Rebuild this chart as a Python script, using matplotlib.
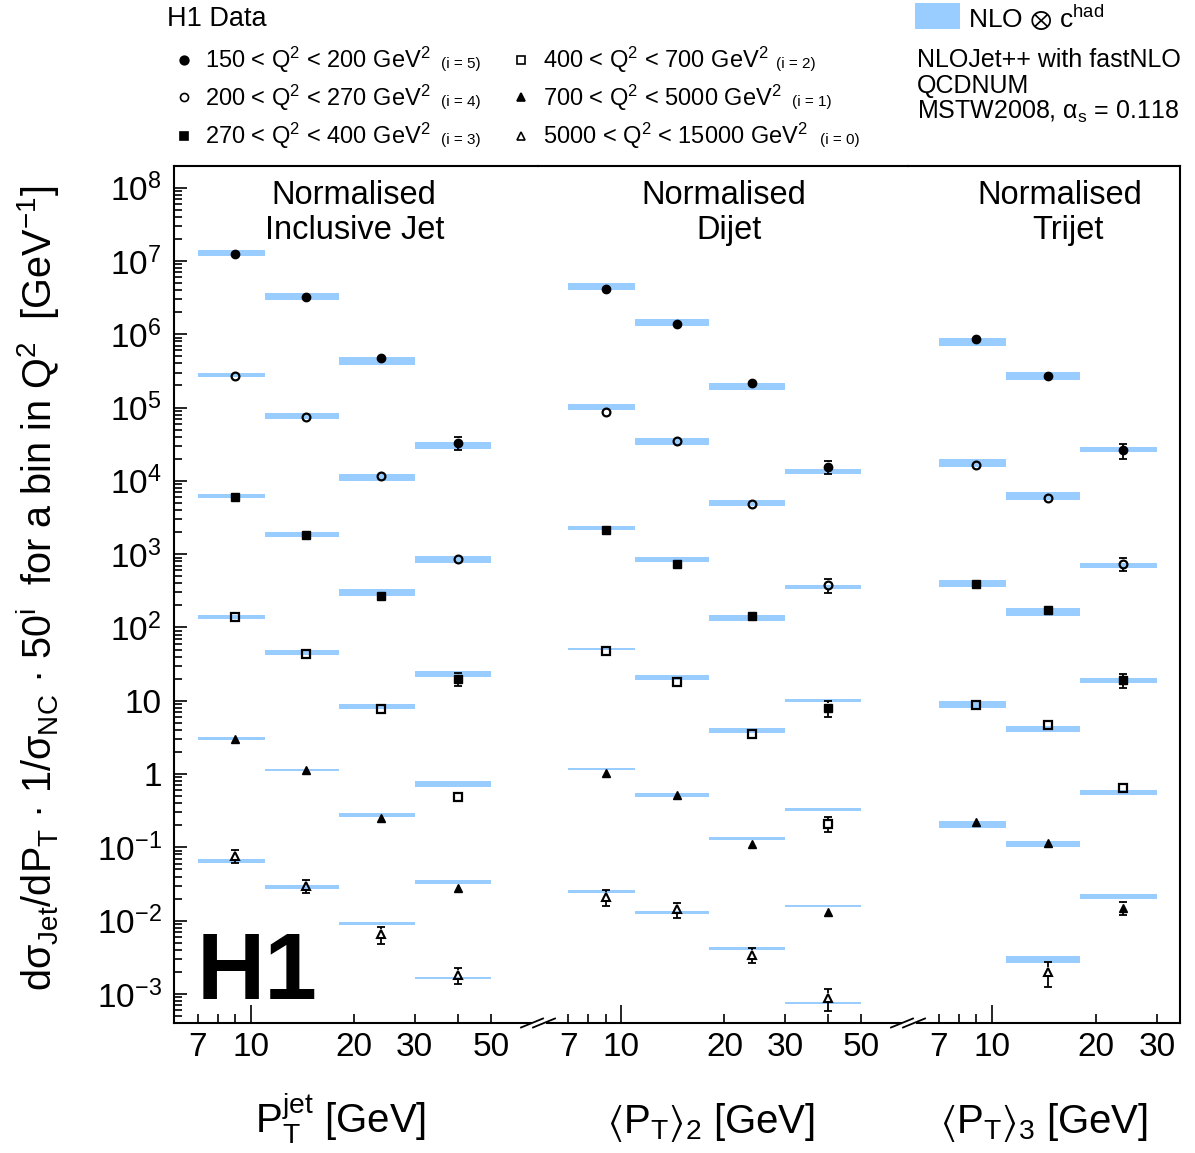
import numpy as np
import matplotlib.pyplot as plt
from matplotlib.patches import Rectangle
from matplotlib.ticker import LogLocator, NullFormatter

plt.rcParams['font.family'] = ['Liberation Sans', 'DejaVu Sans']
plt.rcParams['mathtext.fontset'] = 'custom'
plt.rcParams['mathtext.rm'] = 'Liberation Sans'
plt.rcParams['mathtext.it'] = 'Liberation Sans:italic'
plt.rcParams['mathtext.bf'] = 'Liberation Sans:bold'
plt.rcParams['mathtext.fallback'] = 'stixsans'

# P_T bins (GeV), same for all three observables
edges = [7, 11, 18, 30, 50]
centres = [9, 14.5, 24, 40]

# Q^2 bins, rows go i=5 ... i=0
q2_labels = ["150 < Q$^\\mathregular{2}$ < 200 GeV$^\\mathregular{2}$",
             "200 < Q$^\\mathregular{2}$ < 270 GeV$^\\mathregular{2}$",
             "270 < Q$^\\mathregular{2}$ < 400 GeV$^\\mathregular{2}$",
             "400 < Q$^\\mathregular{2}$ < 700 GeV$^\\mathregular{2}$",
             "700 < Q$^\\mathregular{2}$ < 5000 GeV$^\\mathregular{2}$",
             "5000 < Q$^\\mathregular{2}$ < 15000 GeV$^\\mathregular{2}$"]
i_labels = ["(i = 5)", "(i = 4)", "(i = 3)", "(i = 2)", "(i = 1)", "(i = 0)"]

# normalised inclusive jet (scaled by 50^i)
incl_data = np.array([
    [1.26e7, 3.22e6, 4.8e5, 3.28e4],
    [2.69e5, 7.5e4, 1.15e4, 849],
    [5960, 1800, 268, 20],
    [140, 44, 7.8, 0.49],
    [2.97, 1.13, 0.249, 0.028],
    [0.076, 0.0296, 0.0065, 0.0018]])
incl_err = np.array([  # percent
    [3, 3, 4, 20],
    [3, 3, 4, 8],
    [3, 3, 5, 20],
    [4, 4, 5, 8],
    [5, 5, 6, 8],
    [20, 20, 26, 25]])
incl_theo = np.array([
    [1.28e7, 3.29e6, 4.30e5, 3.02e4],
    [2.79e5, 7.71e4, 1.107e4, 843],
    [6240, 1862, 299, 23.1],
    [139, 45.3, 8.30, 0.735],
    [3.04, 1.135, 0.275, 0.0338],
    [0.0649, 0.0288, 0.00912, 0.00163]])
incl_unc = np.array([  # percent
    [9, 12, 12, 10.5],
    [7, 10, 10.5, 11],
    [7, 8.5, 10.5, 9],
    [6, 7.5, 7.5, 8],
    [4, 4, 6, 5],
    [6, 6, 5, 3]])

# normalised dijet
dijet_data = np.array([
    [4.2e6, 1.40e6, 2.16e5, 1.56e4],
    [8.8e4, 3.5e4, 4890, 378],
    [2110, 741, 145, 8.0],
    [47, 17.8, 3.48, 0.21],
    [1.04, 0.52, 0.11, 0.0131],
    [0.021, 0.0143, 0.0034, 8.7e-4]])
dijet_err = np.array([
    [3, 3, 4, 20],
    [3, 3, 4, 21],
    [3, 4, 5, 25],
    [4, 5, 6, 24],
    [5, 6, 6, 8],
    [25, 23, 23, 33]])
dijet_theo = np.array([
    [4.50e6, 1.44e6, 1.93e5, 1.33e4],
    [1.02e5, 3.46e4, 4966, 355],
    [2249, 843, 134, 10.1],
    [50.2, 20.7, 3.91, 0.327],
    [1.16, 0.515, 0.1315, 0.0158],
    [0.0247, 0.01285, 0.00415, 7.48e-4]])
dijet_unc = np.array([
    [9.5, 10.5, 10.5, 7.5],
    [8, 9.5, 9, 7],
    [6, 8, 9, 6],
    [3, 7.5, 7.5, 5],
    [3, 6, 4, 3.5],
    [4.5, 5, 4, 3.5]])

# normalised trijet (three P_T bins only)
trijet_data = np.array([
    [8.7e5, 2.69e5, 2.6e4],
    [1.63e4, 5820, 741],
    [395, 171, 19],
    [8.85, 4.66, 0.65],
    [0.224, 0.116, 0.015],
    [np.nan, 0.0020, np.nan]])
trijet_err = np.array([
    [4, 5, 23],
    [4, 5, 21],
    [4, 5, 21],
    [5, 6, 10],
    [6, 7, 20],
    [np.nan, 38, np.nan]])
trijet_theo = np.array([
    [7.87e5, 2.72e5, 2.67e4],
    [1.77e4, 6310, 700],
    [402, 162, 18.8],
    [8.85, 4.14, 0.555],
    [0.204, 0.112, 0.0213],
    [np.nan, 0.00294, np.nan]])
trijet_unc = np.array([
    [13, 13.5, 8.5],
    [13.5, 12, 8],
    [12, 12, 8.5],
    [10.5, 10, 8],
    [10.5, 10.5, 7.5],
    [np.nan, 10.5, np.nan]])

blue = '#99ccff'
markers = ['o', 'o', 's', 's', '^', '^']
filled = [True, False, True, False, True, False]
msizes = [6.0, 5.6, 5.8, 5.6, 6.2, 5.8]
mews = [1.0, 1.6, 1.0, 1.6, 1.0, 1.5]

W, H = 1195, 1153
fig = plt.figure(figsize=(W / 100, H / 100), dpi=100)

ytop, ybot = 166, 1023
ylog = (-3.396, 8.295)
px_per_dec = (ybot - ytop) / (ylog[1] - ylog[0])


def make_ax(x0, x1):
    return fig.add_axes([x0 / W, 1 - ybot / H, (x1 - x0) / W, (ybot - ytop) / H])


ax1 = make_ax(174, 538)
ax2 = make_ax(538, 908)
ax3 = make_ax(908, 1180)
axes = [ax1, ax2, ax3]
xlims = [(5.965, 68.65), (5.72, 68.6), (5.70, 35.03)]


def draw_panel(ax, data, err, theo, unc):
    n = data.shape[1]
    xs = np.array(centres[:n])
    widths = np.diff(edges)[:n]
    for i in range(6):
        lo = theo[i] * (1 - unc[i] / 100)
        hi = theo[i] * (1 + unc[i] / 100)
        ax.bar(edges[:n], hi - lo, bottom=lo, width=widths, align='edge',
               color=blue, lw=0, zorder=1)
        y = data[i]
        up = y * (1 + err[i] / 100)
        dn = y * (1 - err[i] / 100)
        # error bars start at the marker edge, as in ROOT
        half = (msizes[i] / 2 + mews[i] / 2) * 100 / 72 / px_per_dec
        y_hi = y * 10 ** half
        y_lo = y * 10 ** -half
        show_up = up > y_hi
        show_dn = dn < y_lo
        ax.vlines(xs[show_up], y_hi[show_up], up[show_up], color='black', lw=1.3, zorder=2)
        ax.vlines(xs[show_dn], dn[show_dn], y_lo[show_dn], color='black', lw=1.3, zorder=2)
        ax.plot(xs[show_up], up[show_up], ls='none', marker='_', ms=5.5, mew=1.3,
                color='black', zorder=2)
        ax.plot(xs[show_dn], dn[show_dn], ls='none', marker='_', ms=5.5, mew=1.3,
                color='black', zorder=2)
        ax.plot(xs, y, ls='none', marker=markers[i], ms=msizes[i],
                mfc='black' if filled[i] else 'none', mec='black', mew=mews[i], zorder=3)


draw_panel(ax1, incl_data, incl_err, incl_theo, incl_unc)
draw_panel(ax2, dijet_data, dijet_err, dijet_theo, dijet_unc)
draw_panel(ax3, trijet_data, trijet_err, trijet_theo, trijet_unc)

minor_x = [[7, 8, 9, 20, 30, 40, 50], [7, 8, 9, 20, 30, 40, 50], [7, 8, 9, 20, 30]]
minor_lab = [['7', '', '', '20', '30', '', '50'], ['7', '', '', '20', '30', '', '50'],
             ['7', '', '', '20', '30']]

for k, ax in enumerate(axes):
    ax.set_xscale('log')
    ax.set_yscale('log')
    ax.set_xlim(*xlims[k])
    ax.set_ylim(10 ** ylog[0], 10 ** ylog[1])
    ax.set_xticks([10])
    ax.set_xticklabels(['10'])
    ax.set_xticks(minor_x[k], minor=True)
    ax.set_xticklabels(minor_lab[k], minor=True)
    ax.tick_params(axis='x', which='major', direction='in', length=13, width=1.2,
                   labelsize=24, pad=6.5, top=False)
    ax.tick_params(axis='x', which='minor', direction='in', length=6.5, width=1.2,
                   labelsize=24, pad=6.5, top=False)
    for s in ax.spines.values():
        s.set_linewidth(1.5)
    ax.patch.set_alpha(0)
    if k > 0:
        ax.spines['left'].set_visible(False)
        ax.tick_params(axis='y', which='both', left=False, labelleft=False)
    if k < 2:
        ax.spines['right'].set_visible(False)
    ax.tick_params(axis='y', which='both', right=False)

yt = [10.0 ** p for p in range(-3, 9)]
ylab = []
for p in range(-3, 9):
    if p == 0:
        ylab.append('1')
    elif p == 1:
        ylab.append('10')
    else:
        ylab.append('$\\mathregular{10^{%d}}$' % p)
ax1.set_yticks(yt)
ax1.set_yticklabels(ylab)
ax1.yaxis.set_minor_locator(LogLocator(base=10, subs=range(2, 10), numticks=100))
ax1.yaxis.set_minor_formatter(NullFormatter())
ax1.tick_params(axis='y', which='major', direction='in', length=9.5, width=1.2,
                labelsize=24, pad=9)
ax1.tick_params(axis='y', which='minor', direction='in', length=6, width=1.2)

# overlay in pixel coordinates for the texts, legend and axis breaks
ov = fig.add_axes([0, 0, 1, 1], zorder=10)
ov.set_xlim(0, W)
ov.set_ylim(H, 0)
ov.axis('off')

# panel titles
ov.text(354, 204, "Normalised", fontsize=23.5, ha='center', va='baseline')
ov.text(355, 239, "Inclusive Jet", fontsize=23.5, ha='center', va='baseline')
ov.text(724, 204, "Normalised", fontsize=23.5, ha='center', va='baseline')
ov.text(729, 239, "Dijet", fontsize=23.5, ha='center', va='baseline')
ov.text(1060, 204, "Normalised", fontsize=23.5, ha='center', va='baseline')
ov.text(1068, 239, "Trijet", fontsize=23.5, ha='center', va='baseline')

# H1 logo
ov.text(197, 999, "H1", fontsize=68, fontweight='bold', ha='left', va='baseline')

# axis labels
ov.text(341, 1133, "P$_\\mathregular{T}^\\mathregular{jet}$ [GeV]", fontsize=29,
        ha='center', va='baseline')
ov.text(711, 1133, "$\\langle$P$_\\mathregular{T}$$\\rangle_\\mathregular{2}$ [GeV]",
        fontsize=29, ha='center', va='baseline')
ov.text(1044, 1133, "$\\langle$P$_\\mathregular{T}$$\\rangle_\\mathregular{3}$ [GeV]",
        fontsize=29, ha='center', va='baseline')
ov.text(38, 588, "d\u03c3$_\\mathregular{Jet}$/dP$_\\mathregular{T}$ \u00b7 1/\u03c3$_\\mathregular{NC}$"
        " \u00b7 50$^\\mathregular{i}$  for a bin in Q$^\\mathregular{2}$  [GeV$^\\mathregular{-1}$]",
        fontsize=28.5, rotation=90, ha='center', va='center')

# data legend
ov.text(167, 26, "H1 Data", fontsize=19.5, ha='left', va='baseline')
leg_mx = [184, 184, 184, 521, 521, 521]
leg_tx = [205, 205, 205, 543, 543, 543]
leg_my = [60, 97, 136, 60, 97, 136]
leg_by = [68, 106, 144, 68, 106, 144]
leg_ix = [441, 441, 441, 776, 792, 820]
for i in range(6):
    ov.plot(leg_mx[i], leg_my[i], marker=markers[i], ms=msizes[i] + 0.2,
            mfc='black' if filled[i] else 'none', mec='black', mew=1.2, ls='none')
    ov.text(leg_tx[i], leg_by[i], q2_labels[i], fontsize=17, ha='left', va='baseline')
    ov.text(leg_ix[i], leg_by[i], i_labels[i], fontsize=11, ha='left', va='baseline')

# theory legend
ov.add_patch(Rectangle((915, 3), 45, 26, color=blue, lw=0))
ov.text(968, 28, "NLO $\\otimes$ c$^\\mathregular{had}$", fontsize=19, ha='left',
        va='baseline')
ov.text(917, 67, "NLOJet++ with fastNLO", fontsize=18, ha='left', va='baseline')
ov.text(917, 93, "QCDNUM", fontsize=18, ha='left', va='baseline')
ov.text(917, 119, "MSTW2008, \u03b1$_\\mathregular{s}$ = 0.118", fontsize=18,
        ha='left', va='baseline')

# axis breaks
for xb in [538, 908]:
    ov.plot([xb - 6, xb + 8], [ybot, ybot], color='white', lw=3, solid_capstyle='butt')
    ov.plot([xb - 17, xb + 5], [ybot + 4.5, ybot - 4.5], color='black', lw=1.3)
    ov.plot([xb - 5, xb + 17], [ybot + 4.5, ybot - 4.5], color='black', lw=1.3)

fig.savefig('out.png', dpi=100)
